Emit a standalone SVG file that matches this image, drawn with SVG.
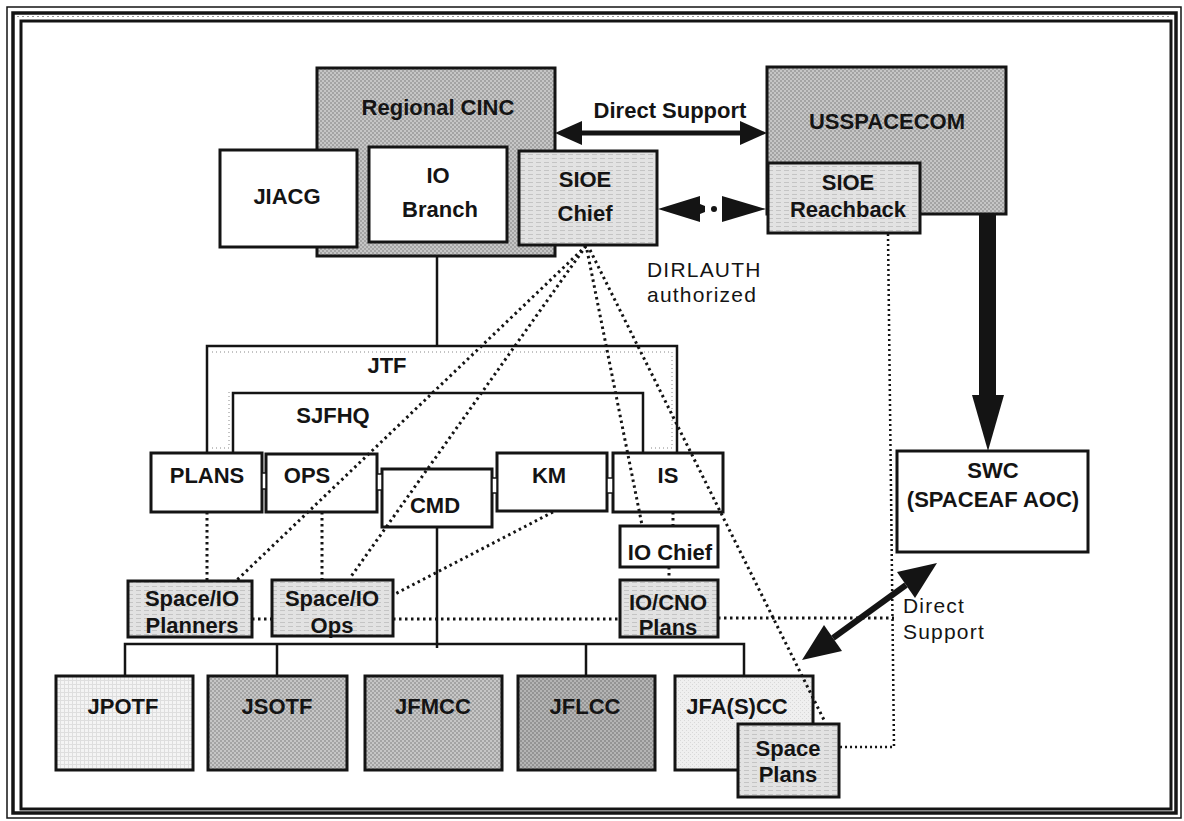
<svg xmlns="http://www.w3.org/2000/svg" width="1184" height="821" viewBox="0 0 1184 821">
<defs>
<pattern id="pDark" width="4" height="4" patternUnits="userSpaceOnUse"><rect width="4" height="4" fill="#c6c6c6"/><rect width="2" height="2" fill="#a4a4a4"/><rect x="2" y="2" width="2" height="2" fill="#a4a4a4"/></pattern>
<pattern id="pDarker" width="4" height="4" patternUnits="userSpaceOnUse"><rect width="4" height="4" fill="#b4b4b4"/><rect width="2" height="2" fill="#949494"/><rect x="2" y="2" width="2" height="2" fill="#949494"/></pattern>
<pattern id="pLight" width="8" height="4" patternUnits="userSpaceOnUse"><rect width="8" height="4" fill="#e2e2e2"/><rect y="2" width="5" height="1" fill="#c4c4c4"/></pattern>
<pattern id="pGrid" width="4" height="4" patternUnits="userSpaceOnUse"><rect width="4" height="4" fill="#f4f4f4"/><path d="M0 0.5H4M0.5 0V4" stroke="#dedede" stroke-width="1"/></pattern>
<pattern id="pPale" width="4" height="4" patternUnits="userSpaceOnUse"><rect width="4" height="4" fill="#efefef"/><rect width="1" height="1" fill="#d8d8d8"/><rect x="2" y="2" width="1" height="1" fill="#d8d8d8"/></pattern>
</defs>
<style>
.box{stroke:#141414;stroke-width:3}
.t{font-family:"Liberation Sans",Arial,sans-serif;font-weight:bold;font-size:22px;fill:#141414;text-anchor:middle}
.r{font-family:"Liberation Sans",Arial,sans-serif;font-size:21px;letter-spacing:1.2px;fill:#141414}
.dot{fill:none;stroke:#141414;stroke-width:3;stroke-dasharray:2.5 3.5}
.fdot{fill:none;stroke:#141414;stroke-width:2.5;stroke-dasharray:2 3}
.faint{fill:none;stroke:#888;stroke-width:1;stroke-dasharray:1 3}
.solid{fill:none;stroke:#141414;stroke-width:2.5}
.link{fill:#fff;stroke:#141414;stroke-width:1.5}
.ah{fill:#141414}
</style>
<rect width="1184" height="821" fill="#fff"/>
<g id="frame" fill="none" stroke="#141414">
<rect x="7" y="7" width="1174" height="811" stroke-width="1.5"/>
<rect x="13" y="13" width="1163" height="800" stroke-width="3.5"/>
<rect x="21" y="21" width="1150" height="788" stroke-width="3"/>
<path d="M17 16.5H1172" stroke="#999" stroke-width="1" stroke-dasharray="2 3"/>
</g>

<g id="regional-cinc"><rect class="box" x="317" y="68" width="238" height="188" fill="url(#pDark)"/><text class="t" x="438" y="115">Regional CINC</text></g>
<g id="jiacg"><rect class="box" x="220" y="150" width="137" height="97" fill="#fff"/><text class="t" x="287" y="204">JIACG</text></g>
<g id="io-branch"><rect class="box" x="369" y="147" width="138" height="95" fill="#fff"/><text class="t" x="438" y="183">IO</text><text class="t" x="440" y="217">Branch</text></g>
<g id="sioe-chief"><rect class="box" x="519" y="151" width="138" height="94" fill="url(#pLight)"/><text class="t" x="585" y="187">SIOE</text><text class="t" x="585" y="221">Chief</text></g>
<g id="usspacecom"><rect class="box" x="767" y="67" width="239" height="147" fill="url(#pDark)"/><text class="t" x="887" y="129">USSPACECOM</text></g>
<g id="sioe-reachback"><rect class="box" x="768" y="163" width="152" height="70" fill="url(#pLight)"/><text class="t" x="848" y="190">SIOE</text><text class="t" x="848" y="217">Reachback</text></g>

<g id="jtf"><path class="faint" d="M212 352H672V448H648M212 448H229V392"/><path class="solid" d="M207 453V346H677V453" stroke-width="3"/><text class="t" x="387" y="373">JTF</text></g>
<g id="sjfhq"><path class="solid" d="M233 453V393H643V453" stroke-width="3"/><text class="t" x="333" y="423">SJFHQ</text></g>

<g id="plans"><rect class="box" x="151" y="453" width="111" height="59" fill="#fff"/><text class="t" x="207" y="483">PLANS</text></g>
<g id="ops"><rect class="box" x="266" y="454" width="111" height="58" fill="#fff"/><text class="t" x="307" y="483">OPS</text></g>
<g id="cmd"><rect class="box" x="382" y="469" width="110" height="58" fill="#fff"/><text class="t" x="435" y="513">CMD</text></g>
<g id="km"><rect class="box" x="497" y="453" width="110" height="58" fill="#fff"/><text class="t" x="549" y="483">KM</text></g>
<g id="is"><rect class="box" x="613" y="453" width="110" height="59" fill="#fff"/><text class="t" x="668" y="483">IS</text></g>
<g id="links"><rect class="link" x="262" y="473" width="4" height="16"/><rect class="link" x="377" y="474" width="5" height="16"/><rect class="link" x="492" y="478" width="5" height="15"/><rect class="link" x="607" y="478" width="6" height="15"/></g>
<g id="io-chief"><rect class="box" x="620" y="526" width="98" height="41" fill="#fff"/><text class="t" x="670" y="560">IO Chief</text></g>
<g id="io-cno-plans"><rect class="box" x="620" y="580" width="98" height="57" fill="url(#pLight)"/><text class="t" x="668" y="610">IO/CNO</text><text class="t" x="668" y="635">Plans</text></g>
<g id="space-io-planners"><rect class="box" x="128" y="581" width="124" height="56" fill="url(#pLight)"/><text class="t" x="192" y="606">Space/IO</text><text class="t" x="192" y="633">Planners</text></g>
<g id="space-io-ops"><rect class="box" x="272" y="580" width="121" height="56" fill="url(#pLight)"/><text class="t" x="332" y="606">Space/IO</text><text class="t" x="332" y="633">Ops</text></g>

<g id="jpotf"><rect class="box" x="56" y="676" width="137" height="94" fill="url(#pGrid)"/><text class="t" x="123" y="714">JPOTF</text></g>
<g id="jsotf"><rect class="box" x="208" y="676" width="139" height="94" fill="url(#pDark)"/><text class="t" x="277" y="714">JSOTF</text></g>
<g id="jfmcc"><rect class="box" x="365" y="676" width="137" height="94" fill="url(#pDark)"/><text class="t" x="433" y="714">JFMCC</text></g>
<g id="jflcc"><rect class="box" x="518" y="676" width="137" height="94" fill="url(#pDarker)"/><text class="t" x="585" y="714">JFLCC</text></g>
<g id="jfascc"><rect class="box" x="675" y="676" width="138" height="94" fill="url(#pPale)"/><text class="t" x="737" y="714">JFA(S)CC</text></g>
<g id="space-plans"><rect class="box" x="738" y="724" width="101" height="73" fill="url(#pLight)"/><text class="t" x="788" y="756">Space</text><text class="t" x="788" y="782">Plans</text></g>
<g id="swc"><rect class="box" x="897" y="451" width="191" height="101" fill="#fff"/><text class="t" x="993" y="478">SWC</text><text class="t" x="993" y="507">(SPACEAF AOC)</text></g>

<g id="connectors">
<path class="solid" d="M437 256V346"/>
<path class="solid" d="M437 527V648"/>
<path class="solid" d="M125 676V644H744V676M277 644V676M586 644V676"/>
<path d="M580 133H742" stroke="#141414" stroke-width="5"/>
<polygon class="ah" points="555,133 582,121 582,145"/>
<polygon class="ah" points="767,133 740,121 740,145"/>
<polygon class="ah" points="658,209 700,196 700,204 705,206 705,212 700,214 700,222"/>
<circle class="ah" cx="714" cy="209" r="3"/>
<polygon class="ah" points="766,209 722,196 722,222"/>
<rect class="ah" x="979" y="214" width="17" height="181"/>
<polygon class="ah" points="972,395 1004,395 988,451"/>
<path d="M906 585L833 638" stroke="#141414" stroke-width="6"/>
<polygon class="ah" points="937,563 915,598 897,572"/>
<polygon class="ah" points="802,660 842,651 824,625"/>
<path class="dot" d="M586 246L237 580"/>
<path class="dot" d="M586 246L350 578"/>
<path class="dot" d="M587 250L642 525"/>
<path class="dot" d="M590 250L825 722"/>
<path class="dot" d="M207 512V581"/>
<path class="dot" d="M322 512V580"/>
<path class="dot" d="M553 512L395 594"/>
<path class="dot" d="M673 512V526"/>
<path class="dot" d="M669 567V580"/>
<path class="dot" d="M252 619H272"/>
<path class="dot" d="M393 619H620"/>
<path class="dot" d="M718 618H894"/>
<path class="fdot" d="M888 234L894 747H839"/>
</g>

<g id="labels">
<text class="t" x="670" y="118">Direct Support</text>
<text class="r" x="647" y="277">DIRLAUTH</text>
<text class="r" x="647" y="302">authorized</text>
<text class="r" x="903" y="613">Direct</text>
<text class="r" x="903" y="639">Support</text>
</g>
</svg>
